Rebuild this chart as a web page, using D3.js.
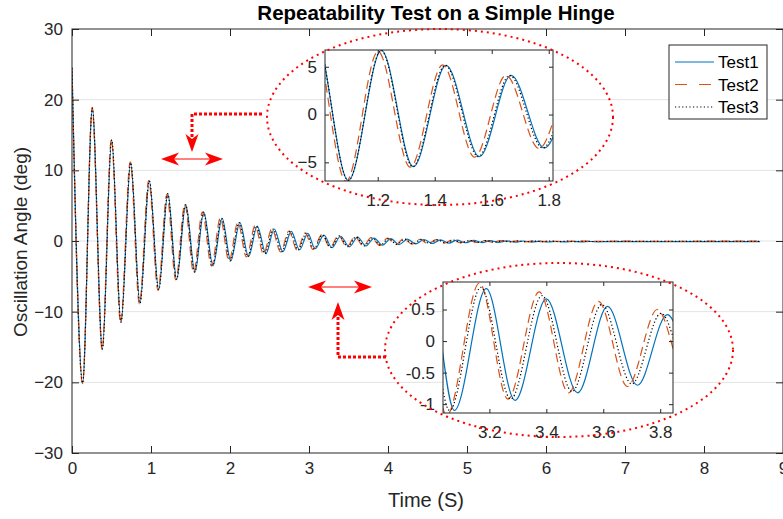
<!DOCTYPE html>
<html>
<head>
<meta charset="utf-8" />
<title>Repeatability Test</title>
<style>
  body { margin: 0; background: #fff; }
  svg text { font-family: "Liberation Sans", Arial, sans-serif; fill: #262626; }
  .grid line { stroke: #e3e3e3; stroke-width: 1px; }
  .tick line { stroke: #262626; }
  .domain { display: none; }
</style>
</head>
<body>
<div id="container"></div>
<script src="https://cdn.jsdelivr.net/npm/d3@7/dist/d3.min.js"></script>
<script>
// extrema of each run: time (s) and angle (deg)
var test1T = [0, 0.135, 0.257, 0.384, 0.502, 0.62, 0.743, 0.86, 0.979, 1.097, 1.213, 1.325, 1.44, 1.557, 1.668, 1.785,
  1.9, 2.01, 2.125, 2.235, 2.345, 2.455, 2.56, 2.67, 2.775, 2.88, 2.985, 3.077, 3.189, 3.29, 3.40, 3.51, 3.615, 3.72,
  3.825, 3.93, 4.035, 4.14, 4.245, 4.35, 4.455, 4.56, 4.665, 4.77, 4.875, 4.98, 5.085, 5.19, 5.295, 5.40, 5.505, 5.61,
  5.715, 5.82, 5.925, 6.03, 6.135, 6.24, 6.345, 6.45, 6.555, 6.66, 6.8, 7.2, 7.6, 8.0, 8.4, 8.71];
var test1V = [24.5, -20.1, 18.8, -15.3, 14.3, -11.5, 11.1, -8.8, 8.5, -6.9, 6.7, -5.45, 5.15, -4.4, 4.1, -3.5,
  3.2, -2.8, 2.6, -2.2, 2.1, -1.8, 1.7, -1.5, 1.35, -1.25, 1.08, -1.1, 0.83, -0.94, 0.67, -0.82, 0.55, -0.70,
  0.42, -0.60, 0.34, -0.50, 0.27, -0.42, 0.21, -0.35, 0.16, -0.29, 0.12, -0.25, 0.08, -0.22, 0.05, -0.19, 0.02, -0.17,
  0.0, -0.15, -0.03, -0.14, -0.05, -0.13, -0.06, -0.12, -0.07, -0.11, -0.09, -0.1, -0.09, -0.1, -0.09, -0.1];

var test2T = [0, 0.134, 0.255, 0.381, 0.498, 0.615, 0.737, 0.853, 0.971, 1.089, 1.201, 1.314, 1.428, 1.54, 1.65, 1.766,
  1.878, 1.988, 2.10, 2.208, 2.318, 2.425, 2.53, 2.64, 2.745, 2.85, 2.952, 3.05, 3.165, 3.265, 3.375, 3.478, 3.583, 3.685,
  3.79, 3.893, 3.995, 4.098, 4.2, 4.302, 4.405, 4.507, 4.61, 4.712, 4.815, 4.917, 5.02, 5.122, 5.225, 5.327, 5.43, 5.532,
  5.635, 5.737, 5.84, 5.942, 6.045, 6.147, 6.25, 6.352, 6.455, 6.6, 7.0, 7.5, 8.0, 8.4, 8.71];
var test2V = [24.5, -20.2, 18.9, -15.4, 14.4, -11.6, 11.2, -8.9, 8.6, -7.0, 6.6, -5.5, 5.2, -4.45, 4.1, -3.55,
  3.25, -2.85, 2.65, -2.25, 2.15, -1.85, 1.75, -1.55, 1.4, -1.3, 1.15, -1.18, 0.92, -0.92, 0.78, -0.82, 0.63, -0.72,
  0.50, -0.62, 0.40, -0.52, 0.32, -0.44, 0.25, -0.37, 0.19, -0.31, 0.14, -0.26, 0.10, -0.21, 0.07, -0.17, 0.05, -0.14,
  0.03, -0.11, 0.01, -0.09, 0.0, -0.07, -0.01, -0.06, -0.02, -0.04, -0.03, -0.04, -0.03, -0.03, -0.03];

var test3T = [0, 0.135, 0.257, 0.384, 0.502, 0.62, 0.743, 0.86, 0.979, 1.097, 1.212, 1.323, 1.437, 1.553, 1.663, 1.779,
  1.893, 2.002, 2.115, 2.224, 2.333, 2.442, 2.546, 2.655, 2.758, 2.862, 2.965, 3.06, 3.17, 3.275, 3.385, 3.49, 3.595, 3.70,
  3.803, 3.905, 4.008, 4.11, 4.213, 4.316, 4.419, 4.522, 4.625, 4.728, 4.83, 4.933, 5.036, 5.139, 5.24, 5.343, 5.446, 5.55,
  5.652, 5.755, 5.858, 5.96, 6.063, 6.166, 6.27, 6.372, 6.475, 6.6, 7.0, 7.5, 8.0, 8.4, 8.71];
var test3V = [24.5, -20.1, 18.8, -15.3, 14.3, -11.5, 11.1, -8.8, 8.5, -6.9, 6.7, -5.45, 5.15, -4.4, 4.1, -3.5,
  3.2, -2.8, 2.6, -2.2, 2.1, -1.8, 1.7, -1.5, 1.36, -1.27, 1.1, -1.1, 0.85, -0.92, 0.72, -0.80, 0.58, -0.68,
  0.44, -0.58, 0.35, -0.48, 0.28, -0.40, 0.22, -0.33, 0.17, -0.27, 0.12, -0.23, 0.08, -0.19, 0.05, -0.16, 0.02, -0.13,
  0.0, -0.11, -0.01, -0.1, -0.02, -0.09, -0.03, -0.08, -0.04, -0.07, -0.06, -0.06, -0.06, -0.06, -0.06];

var seriesNames = ["Test1", "Test2", "Test3"];
var xTicks = [0, 1, 2, 3, 4, 5, 6, 7, 8, 9];
var yTicks = [-30, -20, -10, 0, 10, 20, 30];
var zoom1XTicks = [1.2, 1.4, 1.6, 1.8], zoom1YTicks = [-5, 0, 5];
var zoom2XTicks = [3.2, 3.4, 3.6, 3.8], zoom2YTicks = [-1, -0.5, 0, 0.5];

var width = 783, height = 519;
var styles = [
  { color: "#0072BD", dash: null, w: 1.2 },
  { color: "#D95319", dash: "9,5", w: 1.2 },
  { color: "#000000", dash: "1.2,2.4", w: 1.2 }
];
var series = [
  d3.zip(test1T, test1V),
  d3.zip(test2T, test2V),
  d3.zip(test3T, test3V)
];

var svg = d3.select("#container").append("svg")
  .attr("width", width)
  .attr("height", height);

var defs = svg.append("defs");

// draws one set of axes (main plot or inset) and its three runs
function drawAxes(box, xDom, yDom, xt, yt, tickLen, opts) {
  var x = d3.scaleLinear().domain(xDom).range([box.x0, box.x1]);
  var y = d3.scaleLinear().domain(yDom).range([box.y1, box.y0]);
  var g = svg.append("g");
  var id = "clip" + Math.round(box.x0);

  g.append("rect")
    .attr("x", box.x0).attr("y", box.y0)
    .attr("width", box.x1 - box.x0).attr("height", box.y1 - box.y0)
    .attr("fill", "#fff");

  if (opts.grid) {
    g.append("g").attr("class", "grid")
      .selectAll("line").data(yt.filter(function(d) { return d > yDom[0] && d < yDom[1]; }))
      .enter().append("line")
      .attr("x1", box.x0).attr("x2", box.x1)
      .attr("y1", function(d) { return y(d); })
      .attr("y2", function(d) { return y(d); });
  }

  defs.append("clipPath").attr("id", id)
    .append("rect")
    .attr("x", box.x0).attr("y", box.y0)
    .attr("width", box.x1 - box.x0).attr("height", box.y1 - box.y0);

  var line = d3.line()
    .x(function(d) { return x(d[0]); })
    .y(function(d) { return y(d[1]); })
    .curve(d3.curveMonotoneX);

  var lines = g.append("g").attr("clip-path", "url(#" + id + ")");
  series.forEach(function(s, i) {
    lines.append("path")
      .attr("d", line(s))
      .attr("fill", "none")
      .attr("stroke", styles[i].color)
      .attr("stroke-width", styles[i].w)
      .attr("stroke-dasharray", styles[i].dash);
  });

  var fs = opts.fontSize + "px";
  var bottom = g.append("g")
    .attr("transform", "translate(0," + box.y1 + ")")
    .call(d3.axisBottom(x).tickValues(xt).tickSize(-tickLen).tickSizeOuter(0).tickPadding(opts.padX).tickFormat(opts.fmtX));
  bottom.selectAll("text").style("font-size", fs);
  g.append("g")
    .attr("transform", "translate(0," + box.y0 + ")")
    .call(d3.axisTop(x).tickValues(xt).tickSize(-tickLen).tickSizeOuter(0).tickFormat(""));
  var left = g.append("g")
    .attr("transform", "translate(" + box.x0 + ",0)")
    .call(d3.axisLeft(y).tickValues(yt).tickSize(-tickLen).tickSizeOuter(0).tickPadding(opts.padY).tickFormat(opts.fmtY));
  left.selectAll("text").style("font-size", fs);
  g.append("g")
    .attr("transform", "translate(" + box.x1 + ",0)")
    .call(d3.axisRight(y).tickValues(yt).tickSize(-tickLen).tickSizeOuter(0).tickFormat(""));

  g.append("rect")
    .attr("x", box.x0).attr("y", box.y0)
    .attr("width", box.x1 - box.x0).attr("height", box.y1 - box.y0)
    .attr("fill", "none").attr("stroke", "#262626").attr("stroke-width", 1);

  g.selectAll(".tick line").attr("stroke", "#262626");
  return g;
}

// main plot
drawAxes({ x0: 72, x1: 783, y0: 29, y1: 453 }, [0, 9], [-30, 30], xTicks, yTicks, 7,
  { grid: true, fontSize: 17, padX: 9, padY: 9, fmtX: d3.format("d"), fmtY: d3.format("d") });

svg.append("text")
  .attr("x", 436).attr("y", 20)
  .attr("text-anchor", "middle")
  .style("font-size", "20.5px").style("font-weight", "bold").style("fill", "#000")
  .text("Repeatability Test on a Simple Hinge");

svg.append("text")
  .attr("x", 426).attr("y", 507)
  .attr("text-anchor", "middle")
  .style("font-size", "20px")
  .text("Time (S)");

svg.append("text")
  .attr("transform", "translate(27,242) rotate(-90)")
  .attr("text-anchor", "middle")
  .style("font-size", "19px")
  .text("Oscillation Angle (deg)");

// legend
var leg = svg.append("g");
leg.append("rect")
  .attr("x", 669).attr("y", 45).attr("width", 98).attr("height", 74)
  .attr("fill", "#fff").attr("stroke", "#262626").attr("stroke-width", 1);
seriesNames.forEach(function(name, i) {
  var ly = 62 + i * 22.5;
  leg.append("line")
    .attr("x1", 675).attr("x2", 714).attr("y1", ly).attr("y2", ly)
    .attr("stroke", styles[i].color).attr("stroke-width", styles[i].w)
    .attr("stroke-dasharray", i === 1 ? "12,12" : styles[i].dash);
  leg.append("text")
    .attr("x", 718).attr("y", ly + 6)
    .style("font-size", "17px").style("fill", "#000")
    .text(name);
});

// zoomed insets
drawAxes({ x0: 325, x1: 553, y0: 50, y1: 181 }, [1.015, 1.815], [-6.95, 6.75], zoom1XTicks, zoom1YTicks, 4,
  { grid: false, fontSize: 17, padX: 13, padY: 8, fmtX: d3.format(".1f"), fmtY: d3.format("d") });
drawAxes({ x0: 443, x1: 673, y0: 282, y1: 413 }, [3.037, 3.845], [-1.14, 0.936], zoom2XTicks, zoom2YTicks, 4,
  { grid: false, fontSize: 17, padX: 13, padY: 8, fmtX: d3.format(".1f"), fmtY: function(d) { return d === 0 ? "0" : String(d); } });

// annotations
var red = "#ff0000";
function ellipse(cx, cy, rx, ry) {
  svg.append("ellipse")
    .attr("cx", cx).attr("cy", cy).attr("rx", rx).attr("ry", ry)
    .attr("fill", "none").attr("stroke", red)
    .attr("stroke-width", 2).attr("stroke-dasharray", "2,4");
}
ellipse(440, 117, 173, 88);
ellipse(559, 350, 174, 87);

function head(tx, ty, angle) {
  svg.append("path")
    .attr("d", "M0,0L-18,-6.5L-13,0L-18,6.5Z")
    .attr("transform", "translate(" + tx + "," + ty + ") rotate(" + angle + ")")
    .attr("fill", red);
}
function connector(pts) {
  svg.append("path")
    .attr("d", d3.line()(pts))
    .attr("fill", "none").attr("stroke", red)
    .attr("stroke-width", 3).attr("stroke-dasharray", "3,2");
}
function doubleArrow(x1, x2, yy) {
  svg.append("line")
    .attr("x1", x1 + 10).attr("x2", x2 - 10).attr("y1", yy).attr("y2", yy)
    .attr("stroke", red).attr("stroke-width", 1);
  head(x1, yy, 180);
  head(x2, yy, 0);
}

connector([[262, 114], [192, 114], [192, 138]]);
head(192, 152, 90);
doubleArrow(161, 223, 159);

connector([[386, 357], [338, 357], [338, 316]]);
head(338, 302, -90);
doubleArrow(308, 372, 287);
</script>
</body>
</html>
